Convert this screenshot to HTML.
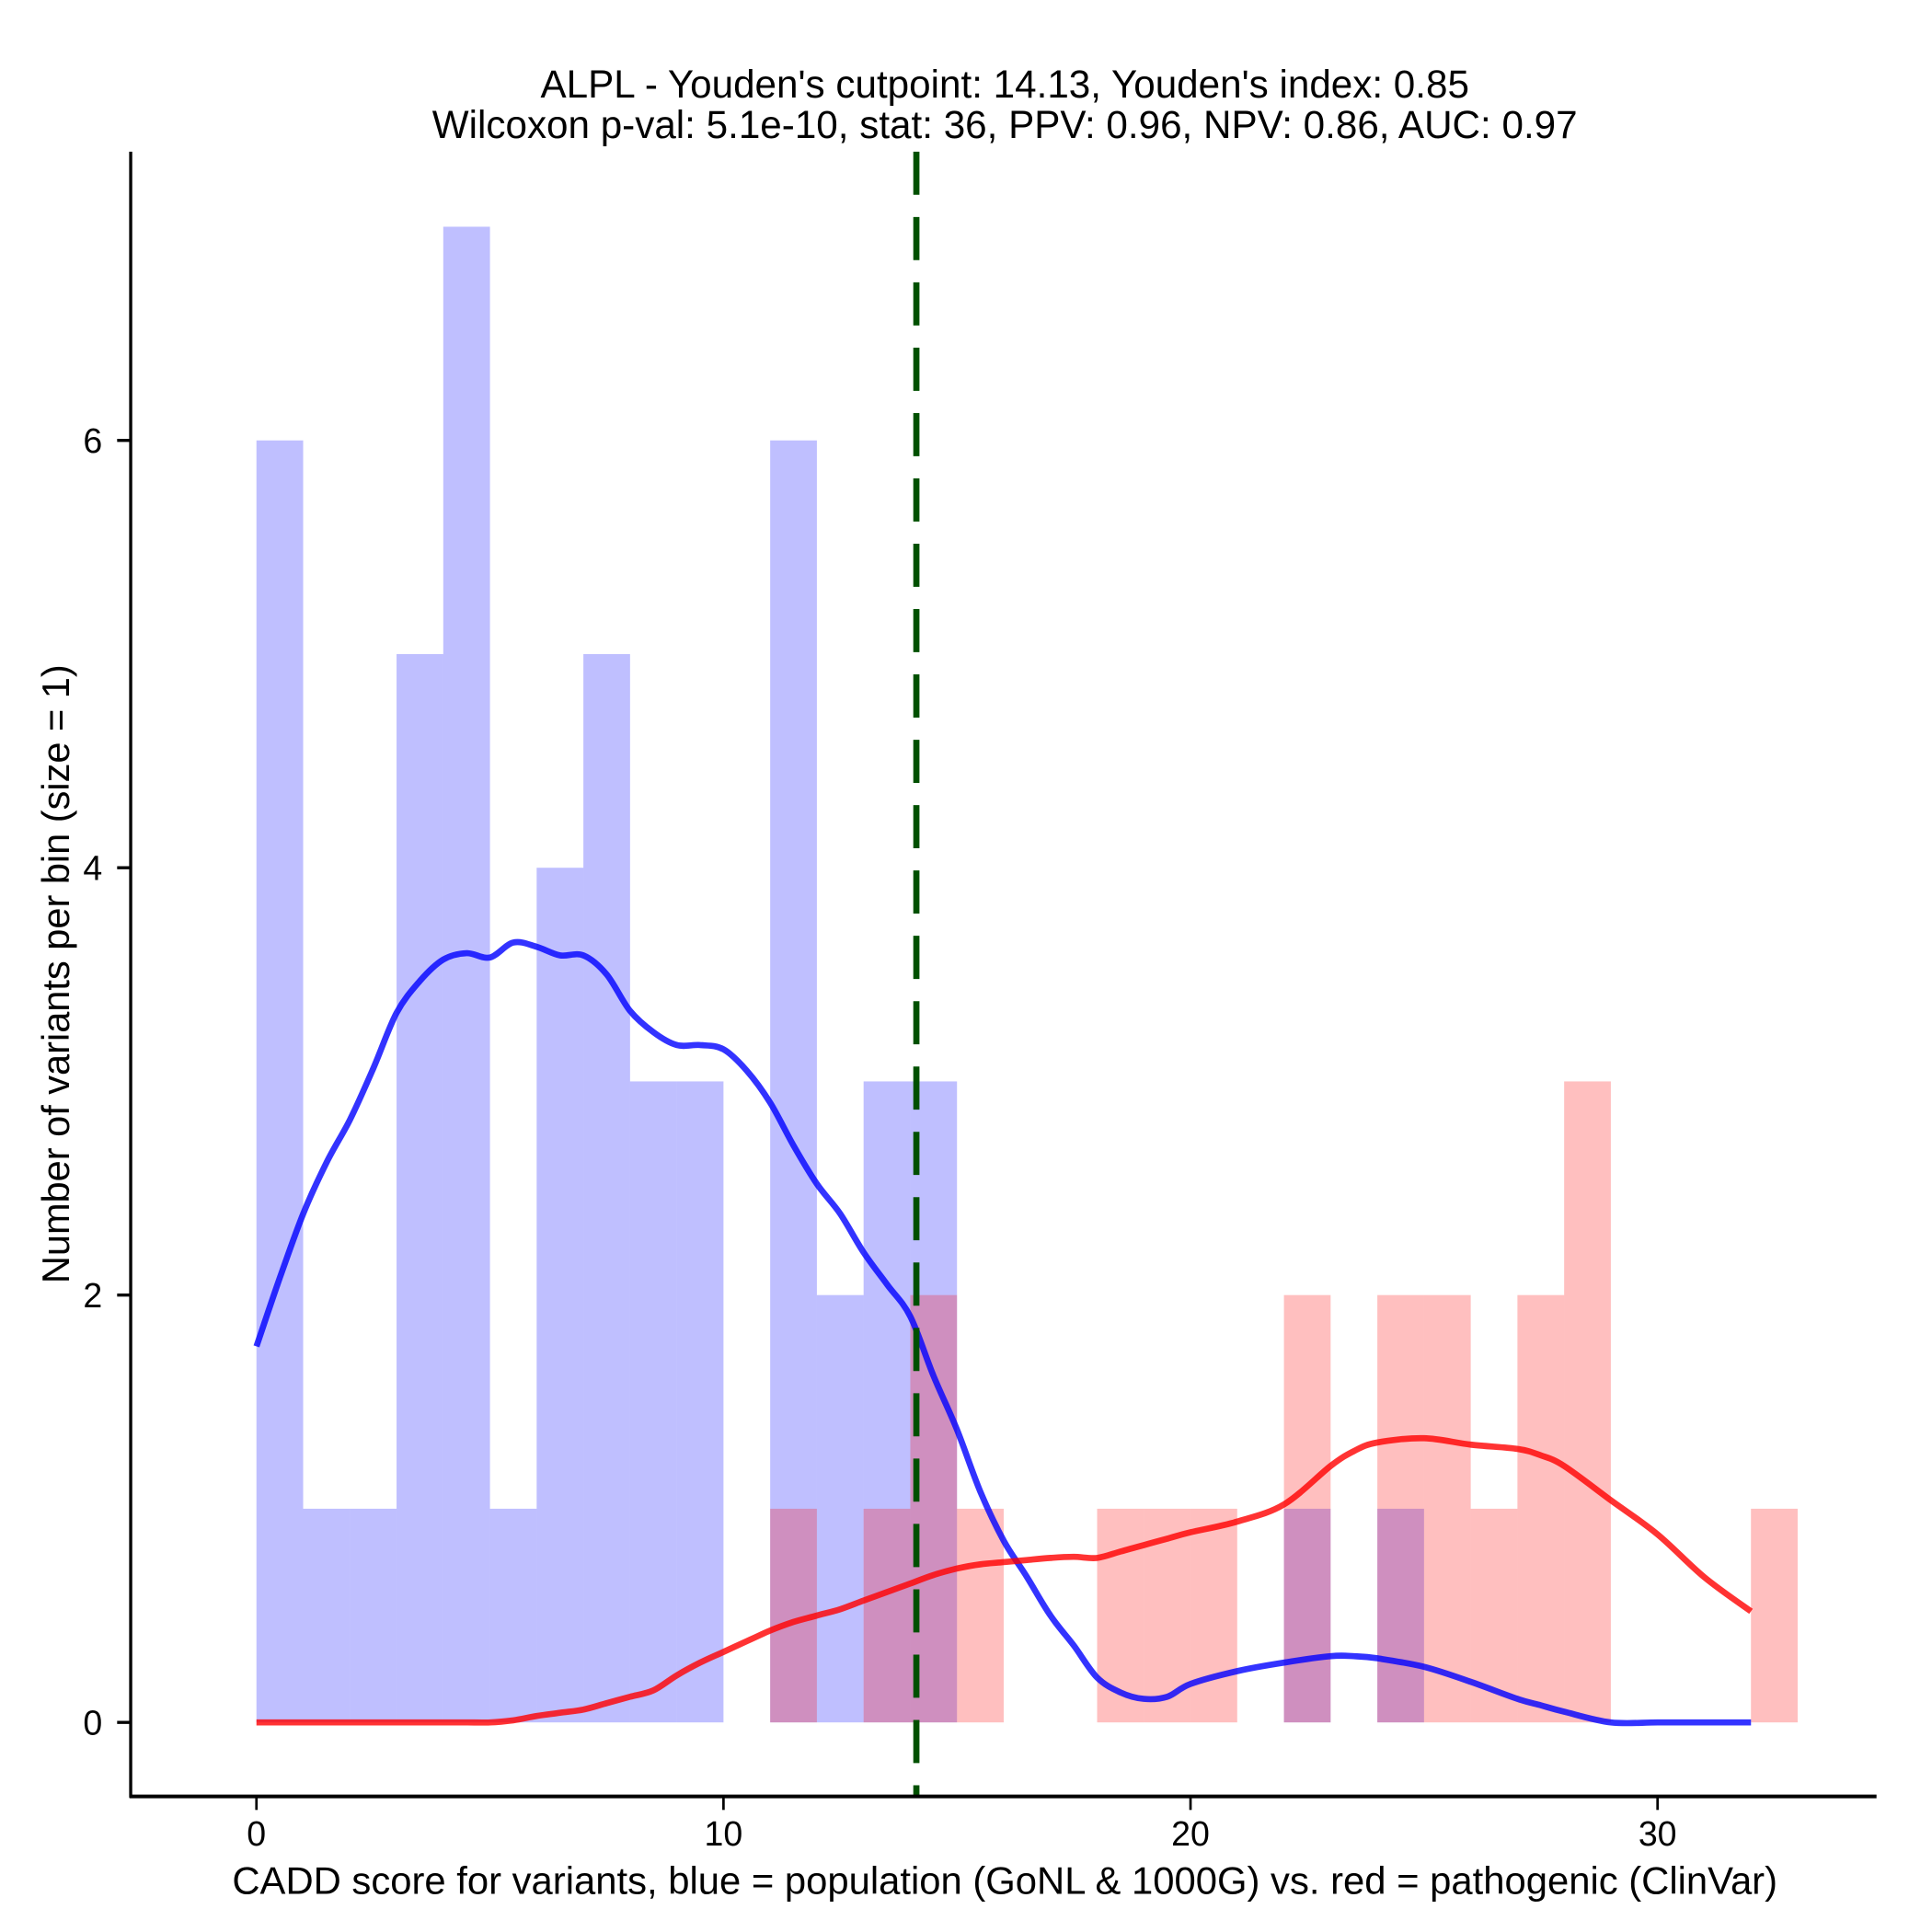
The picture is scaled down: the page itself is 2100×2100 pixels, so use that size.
<!DOCTYPE html>
<html><head><meta charset="utf-8"><style>
html,body{margin:0;padding:0;background:#fff;}
svg{display:block;}
text{font-family:"Liberation Sans",Arial,sans-serif;fill:#000;}
</style></head><body>
<svg id="chart" width="2100" height="2100" viewBox="0 0 1567 1567" xmlns="http://www.w3.org/2000/svg">
<g id="bars"></g>
<g id="curves"></g>
<g id="axes"></g>
<text x="815" y="79" font-size="31.5" text-anchor="middle">ALPL - Youden's cutpoint: 14.13, Youden's index: 0.85</text>
<text x="815" y="112" font-size="31.5" text-anchor="middle">Wilcoxon p-val: 5.1e-10, stat: 36, PPV: 0.96, NPV: 0.86, AUC: 0.97</text>
<text x="815" y="1536" font-size="31.2" text-anchor="middle">CADD score for variants, blue = population (GoNL &amp; 1000G) vs. red = pathogenic (ClinVar)</text>
<text x="0" y="0" font-size="31" text-anchor="middle" transform="translate(56,790) rotate(-90)">Number of variants per bin (size = 1)</text>
</svg>
<script>
const blueCounts = [6,1,1,5,7,1,4,5,3,3,0,6,2,3,3,0,0,0,0,0,0,0,1,0,1,0,0,0,0,0,0,0,0];
const redCounts  = [0,0,0,0,0,0,0,0,0,0,0,1,0,1,2,1,0,0,1,1,1,0,2,0,2,2,1,2,3,0,0,0,1];
const densX = [0,0.5,1,1.5,2,2.5,3,3.5,4,4.5,5,5.5,6,6.5,7,7.5,8,8.5,9,9.5,10,10.5,11,11.5,12,12.5,13,13.5,14,14.5,15,15.5,16,16.5,17,17.5,18,18.5,19,19.5,20,21,22,23,23.5,24,25,26,27,27.5,28,29,30,31,32];
const blueDens = [1.76,2.08,2.38,2.62,2.82,3.06,3.32,3.47,3.57,3.6,3.58,3.65,3.63,3.59,3.59,3.5,3.33,3.23,3.17,3.17,3.15,3.05,2.9,2.7,2.52,2.38,2.2,2.05,1.9,1.62,1.37,1.08,0.85,0.68,0.5,0.36,0.21,0.14,0.11,0.12,0.18,0.24,0.28,0.31,0.31,0.3,0.26,0.19,0.11,0.08,0.05,0,0,0,0];
const redDens = [0,0,0,0,0,0,0,0,0,0,0,0.01,0.03,0.045,0.06,0.09,0.12,0.15,0.22,0.28,0.33,0.38,0.43,0.47,0.5,0.53,0.57,0.61,0.65,0.69,0.72,0.74,0.75,0.76,0.77,0.775,0.77,0.8,0.83,0.86,0.89,0.94,1.02,1.2,1.27,1.31,1.33,1.3,1.28,1.25,1.2,1.04,0.88,0.68,0.52];
const xTicks = [0,10,20,30];
const yTicks = [0,2,4,6];
const cutpoint = 14.13;

const NS='http://www.w3.org/2000/svg';
const X = v => 208 + v*37.88;
const Y = v => 1397 - v*173.3;
function mk(tag, attrs, parent){const e=document.createElementNS(NS,tag);for(const k in attrs)e.setAttribute(k,attrs[k]);parent.appendChild(e);return e;}
const bars=document.getElementById('bars'), curves=document.getElementById('curves'), axes=document.getElementById('axes');

blueCounts.forEach((c,i)=>{ if(c<=0) return;
  const r=mk('rect',{x:X(i),y:Y(c),width:X(i+1)-X(i),height:Y(0)-Y(c),fill:'#0000ff','fill-opacity':0.25},bars);
  
  
});
redCounts.forEach((c,i)=>{ if(c<=0) return;
  const r=mk('rect',{x:X(i),y:Y(c),width:X(i+1)-X(i),height:Y(0)-Y(c),fill:'#ff0000','fill-opacity':0.25},bars);
  
  
});

function line(vals,color,name){
  const pts=densX.map((x,i)=>[X(x),Y(vals[i])]);
  let d='M'+pts[0][0].toFixed(1)+','+pts[0][1].toFixed(1);
  for(let i=0;i<pts.length-1;i++){
    const p0=pts[Math.max(i-1,0)],p1=pts[i],p2=pts[i+1],p3=pts[Math.min(i+2,pts.length-1)];
    const c1=[p1[0]+(p2[0]-p0[0])/6,p1[1]+(p2[1]-p0[1])/6];
    const c2=[p2[0]-(p3[0]-p1[0])/6,p2[1]-(p3[1]-p1[1])/6];
    d+=' C'+c1[0].toFixed(1)+','+c1[1].toFixed(1)+' '+c2[0].toFixed(1)+','+c2[1].toFixed(1)+' '+p2[0].toFixed(1)+','+p2[1].toFixed(1);
  }
  const p=mk('path',{d:d,fill:'none',stroke:color,'stroke-width':5,'stroke-opacity':0.8,'stroke-linejoin':'round'},curves);
  
  
}
line(blueDens,'#0000ff','blue-density-curve');
line(redDens,'#ff0000','red-density-curve');

const cut=mk('line',{x1:X(cutpoint),x2:X(cutpoint),y1:123,y2:1457,stroke:'#005000','stroke-width':5,'stroke-dasharray':'35,18'},curves);



const ya=mk('line',{x1:106,x2:106,y1:123,y2:1458,stroke:'#000','stroke-width':2.5},axes);


const xa=mk('line',{x1:105,x2:1522,y1:1457,y2:1457,stroke:'#000','stroke-width':3},axes);



xTicks.forEach(t=>{
  const l=mk('line',{x1:X(t),x2:X(t),y1:1457,y2:1468,stroke:'#000','stroke-width':2},axes);
  
  
  const tx=mk('text',{x:X(t),y:1497,'font-size':28,'text-anchor':'middle'},axes);
  tx.textContent=t;
  
  
});
yTicks.forEach(t=>{
  const l=mk('line',{x1:95,x2:106,y1:Y(t),y2:Y(t),stroke:'#000','stroke-width':2.5},axes);
  
  
  const tx=mk('text',{x:83,y:Y(t)+10,'font-size':28,'text-anchor':'end'},axes);
  tx.textContent=t;
  
  
});
</script>
</body></html>
